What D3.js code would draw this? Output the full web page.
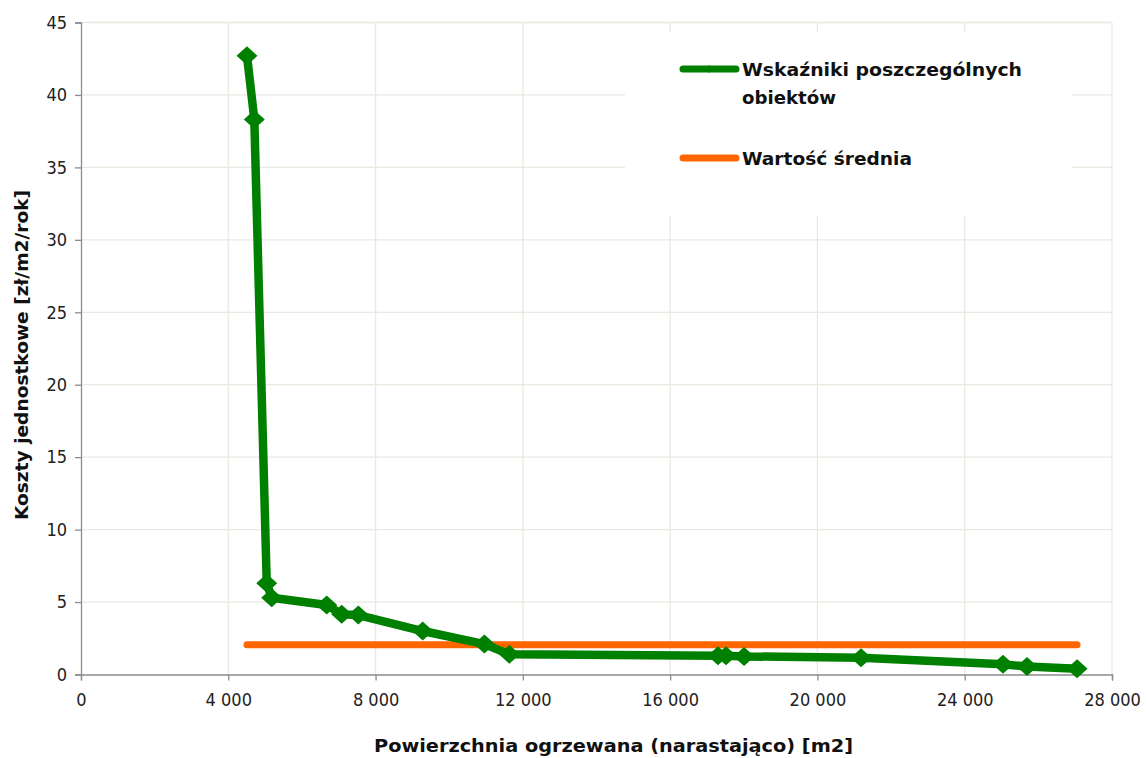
<!DOCTYPE html>
<html><head><meta charset="utf-8">
<script src="https://cdn.jsdelivr.net/npm/d3@7"></script>
<style>body{margin:0;background:#fff}svg{display:block}</style>
</head><body>
<svg id="c" width="1148" height="758"></svg>
<script>
const areaX = [4508, 4707, 5044, 5179, 6673, 7080, 7532, 9280, 10955, 11633, 17300, 17518, 18007, 21185, 25040, 25692, 27051];
const costY = [42.7, 38.3, 6.3, 5.3, 4.8, 4.15, 4.1, 3.0, 2.1, 1.4, 1.3, 1.3, 1.25, 1.15, 0.7, 0.55, 0.4];
const meanValue = 2.05;
const xTicks = [0, 4000, 8000, 12000, 16000, 20000, 24000, 28000];
const yTicks = [0, 5, 10, 15, 20, 25, 30, 35, 40, 45];
const seriesNames = ["Wskaźniki poszczególnych", "obiektów", "Wartość średnia"];
const xTitle = "Powierzchnia ogrzewana (narastająco) [m2]";
const yTitle = "Koszty jednostkowe [zł/m2/rok]";

const svg = d3.select("#c");
const L = 81, R = 1112, T = 22.5, B = 674.5;
const x = d3.scaleLinear().domain([0, 28000]).range([L, R]);
const y = d3.scaleLinear().domain([0, 45]).range([B, T]);
const gridCol = "#ebe8e0";

// gridlines
svg.append("g").selectAll("line").data(yTicks.filter(d => d > 0)).join("line")
  .attr("x1", L).attr("x2", R).attr("y1", d => y(d)).attr("y2", d => y(d))
  .attr("stroke", gridCol).attr("stroke-width", 1.3);
svg.append("g").selectAll("line").data(xTicks.filter(d => d > 0)).join("line")
  .attr("y1", T).attr("y2", B).attr("x1", d => x(d)).attr("x2", d => x(d))
  .attr("stroke", gridCol).attr("stroke-width", 1.3);

// legend background
svg.append("rect").attr("x", 625).attr("y", 32).attr("width", 447).attr("height", 184).attr("fill", "#fff");

// axes
const fmt = d => d === 0 ? "0" : d3.format(",")(d).replace(/,/g, " ");
const xa = svg.append("g").attr("transform", `translate(0,${B})`)
  .call(d3.axisBottom(x).tickValues(xTicks).tickFormat(fmt).tickSizeOuter(0).tickSize(6).tickPadding(13));
const ya = svg.append("g").attr("transform", `translate(${L},0)`)
  .call(d3.axisLeft(y).tickValues(yTicks).tickSizeOuter(0).tickSize(6).tickPadding(8));
[xa, ya].forEach(a => {
  a.select(".domain").attr("stroke", "#8c8c8c").attr("stroke-width", 1.3);
  a.selectAll(".tick line").attr("stroke", "#8c8c8c").attr("stroke-width", 1.3);
  a.selectAll("text").attr("font-family", "DejaVu Sans Condensed, DejaVu Sans").attr("font-size", 18).attr("fill", "#222");
});

// titles
svg.append("text").attr("x", (374 + 853) / 2).attr("y", 752).attr("text-anchor", "middle")
  .attr("font-family", "DejaVu Sans Condensed, DejaVu Sans").attr("font-weight", "bold").attr("font-size", 18)
  .attr("textLength", 479).attr("lengthAdjust", "spacingAndGlyphs").attr("fill", "#111").text(xTitle);
svg.append("text").attr("transform", `translate(28,${(190 + 520) / 2}) rotate(-90)`).attr("text-anchor", "middle")
  .attr("font-family", "DejaVu Sans Condensed, DejaVu Sans").attr("font-weight", "bold").attr("font-size", 18)
  .attr("textLength", 330).attr("lengthAdjust", "spacingAndGlyphs").attr("fill", "#111").text(yTitle);

// mean line
svg.append("line").attr("x1", x(areaX[0])).attr("x2", x(areaX[areaX.length - 1]))
  .attr("y1", y(meanValue)).attr("y2", y(meanValue))
  .attr("stroke", "#ff6600").attr("stroke-width", 7).attr("stroke-linecap", "round");

// data line
const pts = areaX.map((v, i) => [v, costY[i]]);
svg.append("path").datum(pts)
  .attr("d", d3.line().x(d => x(d[0])).y(d => y(d[1])))
  .attr("fill", "none").attr("stroke", "#008000").attr("stroke-width", 8.5).attr("stroke-linejoin", "round");
const diamond = "M0,-9.5 L10.5,0 L0,9.5 L-10.5,0 Z";
svg.append("g").selectAll("path").data(pts).join("path")
  .attr("transform", d => `translate(${x(d[0])},${y(d[1])})`)
  .attr("d", diamond).attr("fill", "#008000");

// legend
svg.append("line").attr("x1", 683).attr("x2", 736).attr("y1", 69).attr("y2", 69)
  .attr("stroke", "#008000").attr("stroke-width", 7).attr("stroke-linecap", "round");
svg.append("path").attr("transform", "translate(709,69)").attr("d", "M0,-4 L3,0 L0,4 L-3,0 Z").attr("fill", "#008000");
svg.append("line").attr("x1", 683).attr("x2", 736).attr("y1", 158).attr("y2", 158)
  .attr("stroke", "#ff6600").attr("stroke-width", 7).attr("stroke-linecap", "round");
const lf = { "font-family": "DejaVu Sans", "font-weight": "bold", "font-size": 17, fill: "#111" };
const addT = (t, xx, yy, w) => { const e = svg.append("text").attr("x", xx).attr("y", yy).text(t);
  Object.entries(lf).forEach(([k, v]) => e.attr(k, v)); if (w) e.attr("textLength", w).attr("lengthAdjust", "spacingAndGlyphs"); };
addT(seriesNames[0], 742, 76, 280);
addT(seriesNames[1], 742, 104, 94);
addT(seriesNames[2], 742, 165, 170);
</script>
</body></html>
